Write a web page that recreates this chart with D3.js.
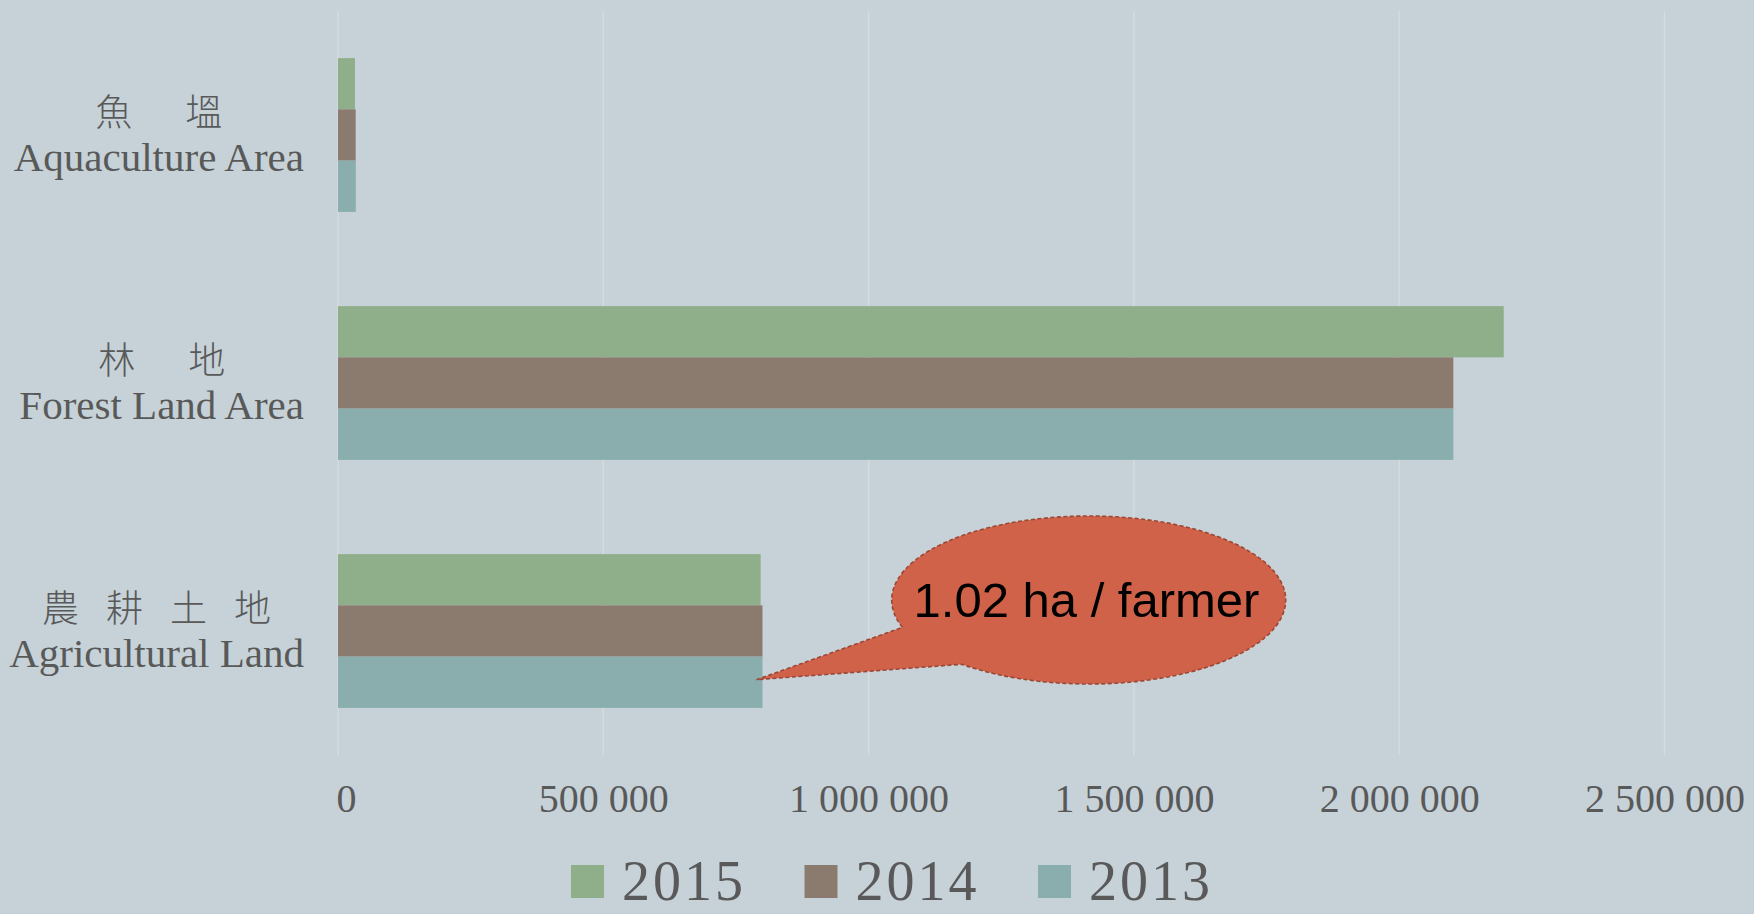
<!DOCTYPE html>
<html>
<head>
<meta charset="utf-8">
<script src="https://cdn.jsdelivr.net/npm/d3@7"></script>
<style>
  html, body { margin: 0; padding: 0; background: #C6D2D8; }
  svg { display: block; }
</style>
</head>
<body>
<svg id="chart" width="1754" height="914"></svg>
<script>
// ---------- data ----------
const categories = ["Aquaculture Area", "Forest Land Area", "Agricultural Land"];
const categoriesZh = ["魚 塭", "林 地", "農 耕 土 地"];
const seriesNames = ["2015", "2014", "2013"];
const values2015 = [32000, 2197000, 796500];
const values2014 = [33300, 2102000, 800000];
const values2013 = [33500, 2102000, 800000];
const seriesColors = ["#8FAF8A", "#8B7A6E", "#8AADAD"];
const tickValues = [0, 500000, 1000000, 1500000, 2000000, 2500000];
const calloutText = "1.02 ha / farmer";

// ---------- layout ----------
const W = 1754, H = 914;
const plot = { left: 338, right: 1664.5, top: 11, bottom: 755 };
const svg = d3.select("#chart");
svg.append("rect").attr("width", W).attr("height", H).attr("fill", "#C6D2D8");

const series = [values2015, values2014, values2013];

const x = d3.scaleLinear().domain([0, 2500000]).range([plot.left, plot.right]);
const y = d3.scaleBand().domain(categories).range([plot.top, plot.bottom])
  .paddingInner(0.38).paddingOuter(0.19);
const ySub = d3.scaleBand().domain(seriesNames).range([0, y.bandwidth()]);

// gridlines
svg.append("g").selectAll("line").data(tickValues).join("line")
  .attr("x1", d => x(d)).attr("x2", d => x(d))
  .attr("y1", plot.top).attr("y2", plot.bottom)
  .attr("stroke", "#D8DCDF").attr("stroke-width", 1.3);

// tick labels via axis
const fmt = v => d3.format(",")(v).replace(/,/g, " ");
const axis = d3.axisBottom(x).tickValues(tickValues).tickFormat(fmt).tickSize(0).tickPadding(0);
const ax = svg.append("g").attr("transform", `translate(0, 786)`).call(axis);
ax.select(".domain").remove();
ax.selectAll("text")
  .attr("font-family", "'Liberation Serif', serif")
  .attr("font-size", 40)
  .attr("fill", "#595959")
  .attr("dy", "0.66em");
ax.selectAll(".tick").filter(d => d === 0).select("text").attr("dx", 8);

// bars
const groups = svg.append("g").selectAll("g").data(categories).join("g")
  .attr("transform", d => `translate(0, ${y(d)})`);
groups.selectAll("rect")
  .data((c, ci) => seriesNames.map((s, si) => ({ s, si, v: series[si][ci] })))
  .join("rect")
  .attr("x", x(0))
  .attr("y", d => ySub(d.s))
  .attr("width", d => x(d.v) - x(0))
  .attr("height", ySub.bandwidth())
  .attr("fill", d => seriesColors[d.si]);

// category labels: one text element per category (Chinese line + English line)
const labelRight = 304;
const lab = svg.append("g");
const measure = svg.append("text")
  .attr("font-family", "'Liberation Serif', serif")
  .attr("font-size", 41);
categories.forEach((c, i) => {
  measure.text(c);
  const w = measure.node().getComputedTextLength();
  const centre = labelRight - w / 2;
  const cy = y(c) + y.bandwidth() / 2;
  const chars = categoriesZh[i].split(" ");
  const pitch = chars.length <= 2 ? 90 : 64;
  const t = lab.append("text")
    .attr("text-anchor", "middle")
    .attr("fill", "#595959");
  chars.forEach((ch, k) => {
    t.append("tspan")
      .attr("x", centre + (k - (chars.length - 1) / 2) * pitch)
      .attr("y", cy - 9)
      .attr("font-family", "'Noto Sans CJK TC', 'Noto Sans CJK SC', sans-serif")
      .attr("font-size", 37)
      .attr("font-weight", 300)
      .text(ch);
  });
  t.append("tspan")
    .attr("x", centre)
    .attr("y", cy + 35.5)
    .attr("font-family", "'Liberation Serif', serif")
    .attr("font-size", 41)
    .text(c);
});
measure.remove();

// callout (tail anchored at the 2013 agricultural bar end)
const tipX = x(values2013[2]) - 6;
const tipY = y(categories[2]) + ySub("2013") + ySub.bandwidth() * 0.45;
const cx = 1088.7, cyE = 600, rx = 197, ry = 84;
const ePt = t => [cx + rx * Math.cos(t), cyE + ry * Math.sin(t)];
const p1 = ePt(2.81), p2 = ePt(2.27);
const pathD = `M ${p1[0]},${p1[1]} A ${rx} ${ry} 0 1 1 ${p2[0]},${p2[1]} L ${tipX},${tipY} Z`;
svg.append("path")
  .attr("d", pathD)
  .attr("fill", "#D06249")
  .attr("stroke", "#9E4634")
  .attr("stroke-width", 1.6)
  .attr("stroke-dasharray", "4,2.5");
svg.append("text")
  .attr("x", 1086.5).attr("y", 617)
  .attr("text-anchor", "middle")
  .attr("font-family", "'Liberation Sans', Arial, sans-serif")
  .attr("font-size", 49)
  .attr("fill", "#000")
  .text(calloutText);

// legend
const legendX0 = 571, legendPitch = 233.5;
const leg = svg.append("g").selectAll("g").data(seriesNames).join("g")
  .attr("transform", (d, i) => `translate(${legendX0 + i * legendPitch}, 865)`);
leg.append("rect").attr("width", 33).attr("height", 33)
  .attr("fill", (d, i) => seriesColors[i]);
leg.append("text")
  .attr("x", 51).attr("y", 35)
  .attr("font-family", "'Liberation Serif', serif")
  .attr("font-size", 56)
  .attr("letter-spacing", 3)
  .attr("fill", "#595959")
  .text(d => d);
</script>
</body>
</html>
